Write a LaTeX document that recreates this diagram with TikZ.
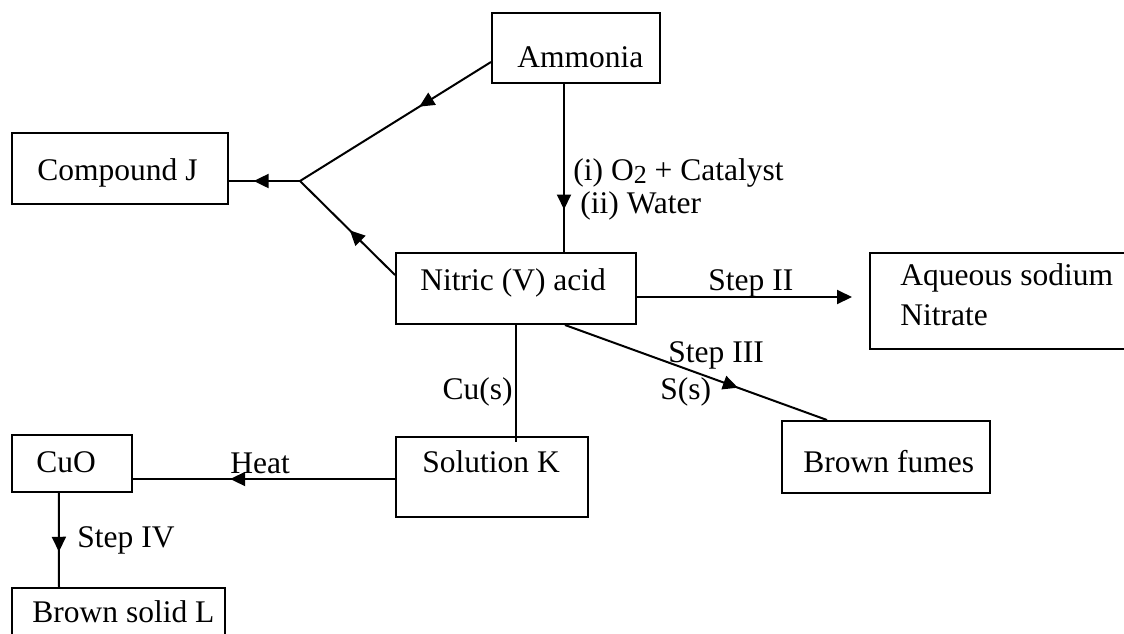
\documentclass[tikz,border=0pt]{standalone}
\usepackage{fontspec}
\setmainfont{Liberation Serif}
\usetikzlibrary{arrows.meta,decorations.markings}
\begin{document}
\begin{tikzpicture}[x=0.5pt,y=-0.5pt,
  box/.style={draw,line width=1pt,inner sep=0pt,minimum width=#1},
  txt/.style={inner sep=0pt,font=\fontsize{15.75}{19}\selectfont},
  link/.style={line width=1pt},
  tipat/.style={postaction={decorate},decoration={markings,mark=at position #1 with {\arrow{Triangle[length=7.5pt,width=7pt]}}}},
  endtip/.style={-{Triangle[length=7.5pt,width=7pt]}}]
\useasboundingbox (0,0) rectangle (1124,633);
\clip (0,0) rectangle (1124,633);
% boxes (centres in px, sizes in pt)
\node[box=84pt,minimum height=35pt] (amm) at (576,48) {};
\node[box=108pt,minimum height=35.5pt] (cj) at (120,168.5) {};
\node[box=120pt,minimum height=35.5pt] (nit) at (516,288.5) {};
\node[box=145pt,minimum height=48pt] (aq) at (1015,301) {};
\node[box=96pt,minimum height=40pt] (solk) at (492,477) {};
\node[box=104pt,minimum height=36pt] (bf) at (886,457) {};
\node[box=60.25pt,minimum height=28.5pt] (cuo) at (71.75,463.5) {};
\node[box=106.5pt,minimum height=36pt] (bsl) at (118.5,624) {};
% texts
\node[txt,anchor=base west] (tamm) at (517,67) {Ammonia};
\node[txt,anchor=base west] (tcj) at (37,180) {Compound J};
\node[txt,anchor=base west] (tnit) at (420,290) {Nitric (V) acid};
\node[txt,anchor=base west] (taq1) at (900,285) {Aqueous sodium};
\node[txt,anchor=base west] (taq2) at (900,325) {Nitrate};
\node[txt,anchor=base west] (tsolk) at (422,472) {Solution K};
\node[txt,anchor=base west] (tbf) at (803,472) {Brown fumes};
\node[txt,anchor=base west] (tcuo) at (36,472) {CuO};
\node[txt,anchor=base west] (tbsl) at (32,622) {Brown solid L};
% labels
\node[txt,anchor=base west] (l1) at (573,180) {(i) O{\fontsize{13}{15}\selectfont\raisebox{-0.12em}{2}} + Catalyst};
\node[txt,anchor=base west] (l2) at (580,213) {(ii) Water};
\node[txt,anchor=base west] (l3) at (708,290) {Step II};
\node[txt,anchor=base west] (l4) at (668,362) {Step III};
\node[txt,anchor=base west] (l5) at (660,399) {S(s)};
\node[txt,anchor=base east] (l6) at (513,399) {Cu(s)};
\node[txt,anchor=base west] (l7) at (230,473) {Heat};
\node[txt,anchor=base west] (l8) at (77,547) {Step IV};
% connectors
\coordinate (j) at (300,181);
\coordinate (s2end) at (852,297);
\draw[link,tipat=0.376] ([yshift=-7pt]amm.west) -- (j);
\draw[link,tipat=0.653] (j) -- ([yshift=-6.25pt]cj.east);
\draw[link,tipat=0.476] ([yshift=6.75pt]nit.west) -- (j);
\draw[link,tipat=0.747] ([xshift=-6pt]amm.south) -- ([xshift=24pt]nit.north);
\draw[link,endtip] ([yshift=-4.25pt]nit.east) -- (s2end);
\draw[link,tipat=0.66] ([xshift=24.5pt]nit.south) -- ([xshift=-29.5pt]bf.north);
\draw[link] (nit.south) -- ([xshift=12pt,yshift=-3pt]solk.north);
\draw[link,tipat=0.629] ([yshift=-1pt]solk.west) -- ([yshift=-7.75pt]cuo.east);
\draw[link,tipat=0.625] ([xshift=-6.5pt]cuo.south) -- ([xshift=-29.75pt]bsl.north);
\end{tikzpicture}
\end{document}
